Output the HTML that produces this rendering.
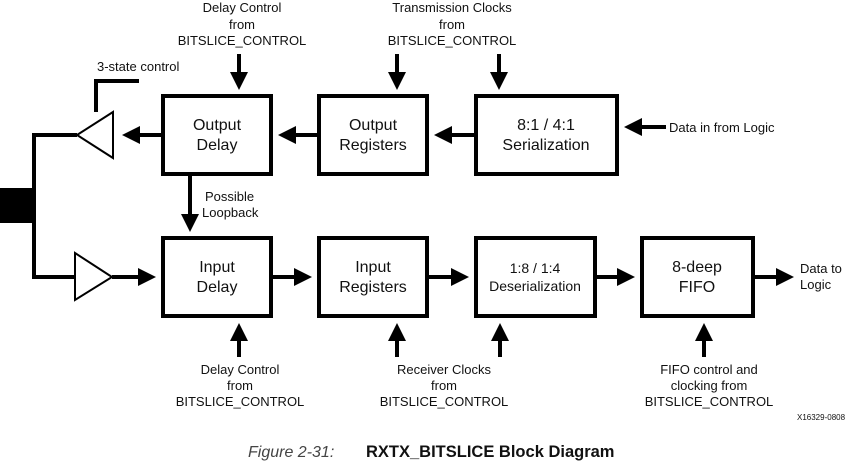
<!DOCTYPE html>
<html><head><style>
body{margin:0;background:#fff;}
svg{display:block;}
text{font-family:"Liberation Sans",Arial,sans-serif;fill:#111;}
.l{font-size:13px;}
.b{font-size:16px;}
</style></head><body>
<svg width="847" height="462" viewBox="0 0 847 462">
<defs>
<marker id="a" markerWidth="4.5" markerHeight="4.5" refX="2.5" refY="2.25" orient="auto" markerUnits="strokeWidth"><path d="M0,0 L4.5,2.25 L0,4.5 z" fill="#000"/></marker>
</defs>
<g fill="#fff" stroke="#000" stroke-width="4">
<rect x="163" y="96" width="108" height="78"/>
<rect x="319" y="96" width="108" height="78"/>
<rect x="476" y="96" width="141" height="78"/>
<rect x="163" y="238" width="108" height="78"/>
<rect x="319" y="238" width="108" height="78"/>
<rect x="476" y="238" width="119" height="78"/>
<rect x="642" y="238" width="111" height="78"/>
</g>
<rect x="0" y="188" width="34" height="35" fill="#000"/>
<g stroke="#000" stroke-width="4" fill="none">
<polyline points="77,135 34,135 34,277 74,277"/>
<polyline points="96,112 96,81 139,81"/>
<polygon points="77,135 113,112 113,158" fill="#fff" stroke-width="2"/>
<polygon points="75,253 75,300 112,277" fill="#fff" stroke-width="2"/>
<line x1="163" y1="135" x2="130" y2="135" marker-end="url(#a)"/>
<line x1="319" y1="135" x2="286" y2="135" marker-end="url(#a)"/>
<line x1="476" y1="135" x2="442" y2="135" marker-end="url(#a)"/>
<line x1="666" y1="127" x2="632" y2="127" marker-end="url(#a)"/>
<line x1="112" y1="277" x2="148" y2="277" marker-end="url(#a)"/>
<line x1="271" y1="277" x2="304" y2="277" marker-end="url(#a)"/>
<line x1="427" y1="277" x2="461" y2="277" marker-end="url(#a)"/>
<line x1="595" y1="277" x2="627" y2="277" marker-end="url(#a)"/>
<line x1="753" y1="277" x2="786" y2="277" marker-end="url(#a)"/>
<line x1="190" y1="174" x2="190" y2="224" marker-end="url(#a)"/>
<line x1="239" y1="54" x2="239" y2="82" marker-end="url(#a)"/>
<line x1="397" y1="54" x2="397" y2="82" marker-end="url(#a)"/>
<line x1="499" y1="54" x2="499" y2="82" marker-end="url(#a)"/>
<line x1="239" y1="357" x2="239" y2="331" marker-end="url(#a)"/>
<line x1="397" y1="357" x2="397" y2="331" marker-end="url(#a)"/>
<line x1="500" y1="357" x2="500" y2="331" marker-end="url(#a)"/>
<line x1="704" y1="357" x2="704" y2="331" marker-end="url(#a)"/>
</g>
<g class="b" text-anchor="middle">
<text x="217" y="130">Output</text><text x="217" y="150">Delay</text>
<text x="373" y="130">Output</text><text x="373" y="150">Registers</text>
<text x="546" y="130">8:1 / 4:1</text><text x="546" y="150">Serialization</text>
<text x="217" y="272">Input</text><text x="217" y="292">Delay</text>
<text x="373" y="272">Input</text><text x="373" y="292">Registers</text>
<text x="535" y="273" style="font-size:14px">1:8 / 1:4</text><text x="535" y="291" style="font-size:14px">Deserialization</text>
<text x="697" y="272">8-deep</text><text x="697" y="292">FIFO</text>
</g>
<g class="l" text-anchor="middle">
<text x="242" y="12">Delay Control</text><text x="242" y="29">from</text><text x="242" y="45">BITSLICE_CONTROL</text>
<text x="452" y="12">Transmission Clocks</text><text x="452" y="29">from</text><text x="452" y="45">BITSLICE_CONTROL</text>
<text x="240" y="374">Delay Control</text><text x="240" y="390">from</text><text x="240" y="406">BITSLICE_CONTROL</text>
<text x="444" y="374">Receiver Clocks</text><text x="444" y="390">from</text><text x="444" y="406">BITSLICE_CONTROL</text>
<text x="709" y="374">FIFO control and</text><text x="709" y="390">clocking from</text><text x="709" y="406">BITSLICE_CONTROL</text>
</g>
<g class="l">
<text x="97" y="71">3-state control</text>
<text x="205" y="201">Possible</text><text x="202" y="217">Loopback</text>
<text x="669" y="132">Data in from Logic</text>
<text x="800" y="273">Data to</text><text x="800" y="289">Logic</text>
<text x="797" y="420" style="font-size:8px">X16329-0808</text>
</g>
<text x="248" y="457" style="font-size:16px;font-style:italic;fill:#444">Figure 2-31:</text>
<text x="366" y="457" style="font-size:16.5px;font-weight:bold">RXTX_BITSLICE Block Diagram</text>
</svg>
</body></html>
